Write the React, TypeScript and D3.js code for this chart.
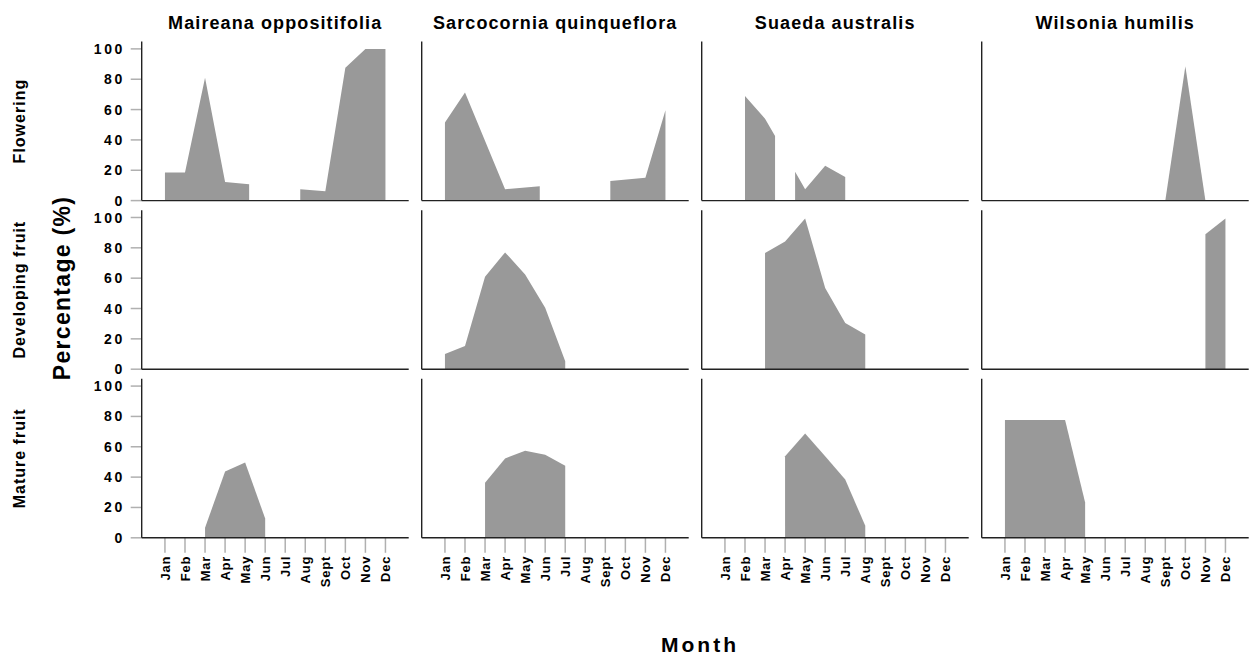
import React, { useEffect, useRef } from "react";
import * as d3 from "d3";

type Pt = [number, number] | null;

const months = ["Jan", "Feb", "Mar", "Apr", "May", "Jun", "Jul", "Aug", "Sept", "Oct", "Nov", "Dec"];
const species = ["Maireana oppositifolia", "Sarcocornia quinqueflora", "Suaeda australis", "Wilsonia humilis"];
const stages = ["Flowering", "Developing fruit", "Mature fruit"];
const yTicks = [0, 20, 40, 60, 80, 100];

// [month (1 = Jan), percentage]; null breaks the area
const maireanaFlowering: Pt[] = [[1, 18.5], [2, 18.5], [3, 81], [4, 12.3], [5.2, 10.8], null, [7.75, 7.5], [9, 6.2], [10, 87.6], [11, 100], [12, 100]];
const sarcocorniaFlowering: Pt[] = [[1, 51.5], [2, 71.3], [4, 7.5], [5.73, 9.5], null, [9.25, 13], [11, 15], [12, 59.6]];
const suaedaFlowering: Pt[] = [[2, 69], [3, 54], [3.5, 42.5], null, [4.5, 19], [5, 7.5], [6, 23], [7, 15.6]];
const wilsoniaFlowering: Pt[] = [[9, 0], [10, 88.5], [11, 0]];

const maireanaDeveloping: Pt[] = [];
const sarcocorniaDeveloping: Pt[] = [[1, 10], [2, 15.3], [3, 61], [4, 77], [5, 62.4], [6, 40.5], [7, 5.3]];
const suaedaDeveloping: Pt[] = [[3, 76.6], [4, 84.2], [5, 99.3], [6, 53.6], [7, 30.4], [8, 22.8]];
const wilsoniaDeveloping: Pt[] = [[11, 89], [12, 99.3]];

const maireanaMature: Pt[] = [[3, 6.6], [4, 43.7], [5, 49.7], [6, 12.7]];
const sarcocorniaMature: Pt[] = [[3, 36.3], [4, 52.3], [5, 57.4], [6, 54.7], [7, 47.5]];
const suaedaMature: Pt[] = [[4, 53.8], [5, 68.8], [6, 53.8], [7, 38.5], [8, 7.9]];
const wilsoniaMature: Pt[] = [[1, 77.6], [2, 77.6], [3, 77.6], [4, 77.6], [5, 23.3]];

const panels: Pt[][][] = [
  [maireanaFlowering, sarcocorniaFlowering, suaedaFlowering, wilsoniaFlowering],
  [maireanaDeveloping, sarcocorniaDeveloping, suaedaDeveloping, wilsoniaDeveloping],
  [maireanaMature, sarcocorniaMature, suaedaMature, wilsoniaMature],
];

const App: React.FC = () => {
  const svgRef = useRef<SVGSVGElement | null>(null);

  useEffect(() => {
    const width = 1249;
    const height = 657;
    const font = "'Liberation Sans', Arial, Helvetica, sans-serif";
    const left0 = 141.7;
    const colStep = 280;
    const panelW = 267;
    const top0 = 41.6;
    const rowStep = 168.6;
    const panelH = 159;
    const pad = 1.16;

    const svg = d3.select(svgRef.current).attr("width", width).attr("height", height);
    svg.selectAll("*").remove();

    const x = d3.scaleLinear().domain([1 - pad, 12 + pad]).range([0, panelW]);
    const y = d3.scaleLinear().domain([0, 104.8]).range([panelH, 0]);

    const area = d3
      .area<Pt>()
      .defined((d) => d != null)
      .x((d) => x((d as [number, number])[0]))
      .y0(y(0))
      .y1((d) => y((d as [number, number])[1]));

    panels.forEach((row, r) => {
      row.forEach((series, c) => {
        const g = svg
          .append("g")
          .attr("transform", `translate(${left0 + c * colStep},${top0 + r * rowStep})`);

        // area
        g.append("path").attr("d", area(series) || "").attr("fill", "#999999");

        // y ticks + labels in first column
        if (c === 0) {
          yTicks.forEach((t) => {
            g.append("line")
              .attr("x1", -11)
              .attr("x2", 0)
              .attr("y1", y(t))
              .attr("y2", y(t))
              .attr("stroke", "#b0b0b0")
              .attr("stroke-width", 1.5);
            g.append("text")
              .attr("x", -17)
              .attr("y", y(t))
              .attr("dy", "0.36em")
              .attr("text-anchor", "end")
              .style("font-family", font)
              .style("font-size", "14px")
              .style("font-weight", "bold")
              .style("letter-spacing", "2.5px")
              .text(t);
          });
        }

        // x ticks + month labels in bottom row
        if (r === 2) {
          months.forEach((m, i) => {
            const xm = x(i + 1);
            g.append("line")
              .attr("x1", xm)
              .attr("x2", xm)
              .attr("y1", panelH)
              .attr("y2", panelH + 15)
              .attr("stroke", "#b0b0b0")
              .attr("stroke-width", 1.5);
            g.append("text")
              .attr("transform", `translate(${xm},${panelH + 18}) rotate(-90)`)
              .attr("dy", "0.36em")
              .attr("text-anchor", "end")
              .style("font-family", font)
              .style("font-size", "13px")
              .style("font-weight", "bold")
              .style("letter-spacing", "0.8px")
              .text(m);
          });
        }

        // axes lines
        g.append("line")
          .attr("x1", 0)
          .attr("x2", 0)
          .attr("y1", 0)
          .attr("y2", panelH)
          .attr("stroke", "#222")
          .attr("stroke-width", 1.4);
        g.append("line")
          .attr("x1", 0)
          .attr("x2", panelW)
          .attr("y1", panelH)
          .attr("y2", panelH)
          .attr("stroke", "#222")
          .attr("stroke-width", 1.4);
      });
    });

    // species titles
    species.forEach((s, c) => {
      svg
        .append("text")
        .attr("x", left0 + c * colStep + panelW / 2)
        .attr("y", 29)
        .attr("text-anchor", "middle")
        .style("font-family", font)
        .style("font-size", "18px")
        .style("font-weight", "bold")
        .style("letter-spacing", "1.1px")
        .text(s);
    });

    // stage labels
    stages.forEach((s, r) => {
      svg
        .append("text")
        .attr("transform", `translate(19,${top0 + r * rowStep + panelH / 2}) rotate(-90)`)
        .attr("dy", "0.36em")
        .attr("text-anchor", "middle")
        .style("font-family", font)
        .style("font-size", "16px")
        .style("font-weight", "bold")
        .style("letter-spacing", "1px")
        .text(s);
    });

    // y axis title
    svg
      .append("text")
      .attr("transform", `translate(62,288) rotate(-90)`)
      .attr("dy", "0.36em")
      .attr("text-anchor", "middle")
      .style("font-family", font)
      .style("font-size", "23px")
      .style("font-weight", "bold")
      .style("letter-spacing", "1.3px")
      .text("Percentage (%)");

    // x axis title
    svg
      .append("text")
      .attr("x", 700)
      .attr("y", 652)
      .attr("text-anchor", "middle")
      .style("font-family", font)
      .style("font-size", "21px")
      .style("font-weight", "bold")
      .style("letter-spacing", "3px")
      .text("Month");
  }, []);

  return <svg ref={svgRef} style={{ position: "absolute", left: 0, top: 0 }}></svg>;
};

export default App;
